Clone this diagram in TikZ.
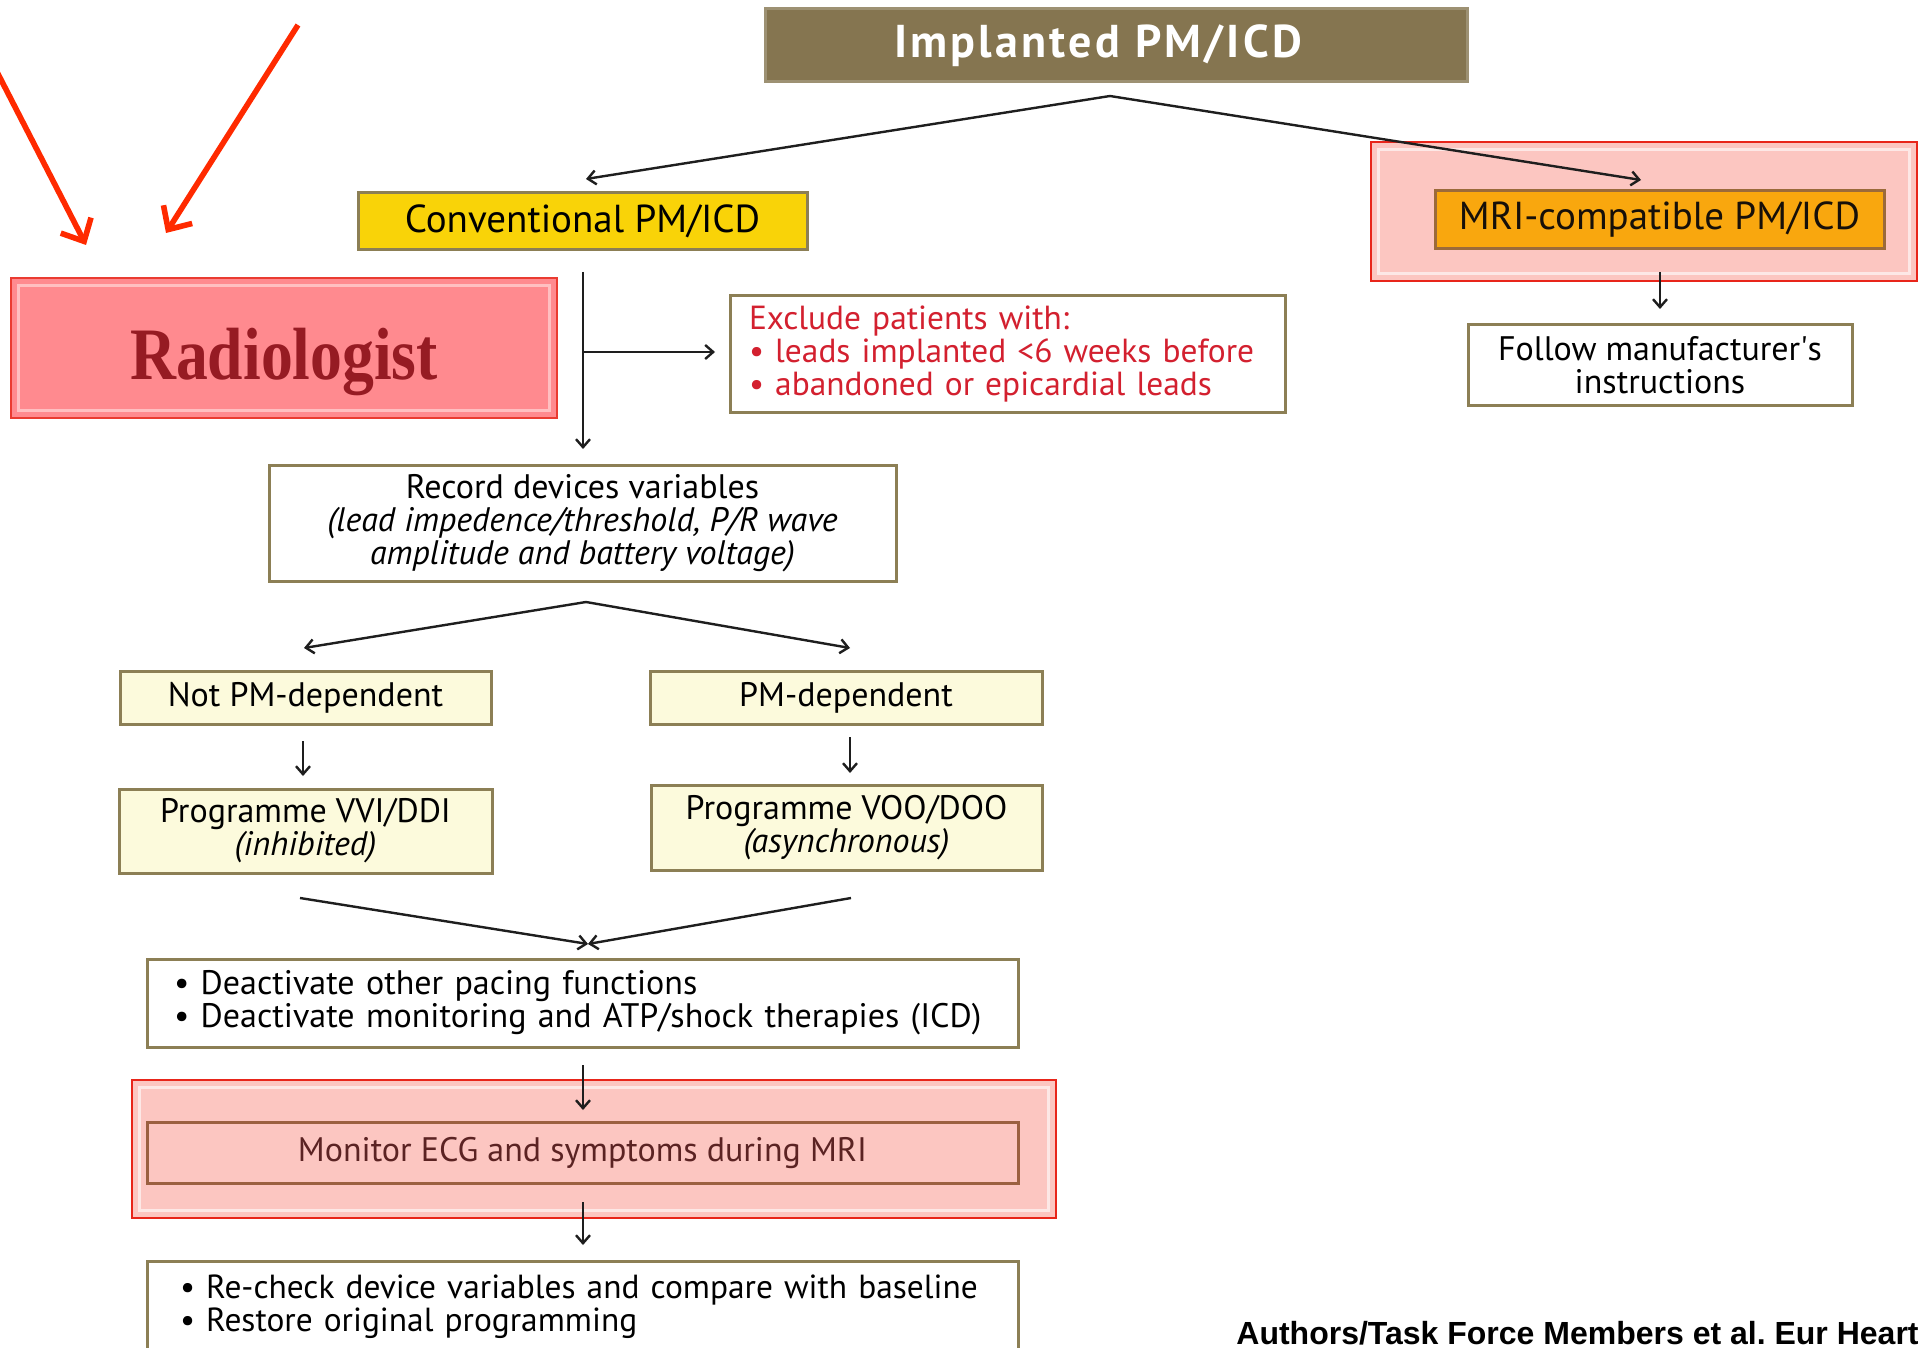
\documentclass[tikz,border=0pt]{standalone}
\usepackage{fontspec}
\setmainfont{PT Sans}
\newfontfamily\citefont{Liberation Sans}
\newfontfamily\radfont{Liberation Serif}
\newfontfamily\implfont[LetterSpace=7]{PT Sans}
\usepackage{xcolor}
\usepackage{tikz}
\usetikzlibrary{arrows.meta,positioning,calc}
\definecolor{implbrown}{HTML}{857550}
\definecolor{boxline}{HTML}{8C7F55}
\definecolor{convyellow}{HTML}{F9D308}
\definecolor{mriorange}{HTML}{F9A70E}
\definecolor{mriline}{HTML}{9B6A3A}
\definecolor{hlpink}{HTML}{FCC6C1}
\definecolor{hlred}{HTML}{E8251A}
\definecolor{radpink}{HTML}{FF8A8F}
\definecolor{radtext}{HTML}{961B23}
\definecolor{cream}{HTML}{FCFADC}
\definecolor{exred}{HTML}{D3202F}
\definecolor{montext}{HTML}{5B2323}
\definecolor{monline}{HTML}{9B6040}
\definecolor{linkgray}{HTML}{1E1E1E}
\definecolor{arrowred}{HTML}{FF2A00}
\newcommand{\pxu}{0.5pt}

\begin{document}
\begin{tikzpicture}[x=0.5pt, y=-0.5pt, >={Straight Barb[length=4pt,width=7pt]},
  font=\fontsize{17}{16.5}\selectfont,
  box/.style={draw=boxline, line width=1.5pt, fill=white, inner sep=0pt, align=center},
  creambox/.style={box, fill=cream},
  hlbox/.style={draw=hlred, line width=1.2pt, fill=hlpink, inner sep=0pt},
  link/.style={draw=linkgray, line width=1.2pt},
  redarrow/.style={draw=arrowred, line width=2.8pt, -{Straight Barb[length=9pt,width=17pt]}}]
  \clip (0,0) rectangle (1923,1348);
  \fill[white] (0,0) rectangle (1923,1348);
  % box helper: [style]{name}{x1}{y1}{x2}{y2}{text}
  \newcommand{\flowbox}[7][box]{%
    \node[#1, minimum width={(#5-#3)*\pxu}, minimum height={(#6-#4)*\pxu}]
      (#2) at ({(#3+#5)/2},{(#4+#6)/2}) {#7};}
  % top level
  \flowbox[box, fill=implbrown, draw=implbrown!80!white]{impl}{765}{9}{1467}{82}{}
  \node[text=white, font=\implfont\fontsize{23}{24}\selectfont\bfseries, xshift=-9pt] (impltxt) at (impl.center) {Implanted PM/ICD};
  \flowbox[box, fill=convyellow, font=\fontsize{19.5}{20}\selectfont]{conv}{358}{193}{807}{250}{Conventional PM/ICD}
  % MRI-compatible branch
  \flowbox[hlbox]{mrihl}{1371}{142}{1917}{281}{}
  \draw[white, opacity=.6, line width=1.5pt] ($(mrihl.north west)+(9,9)$) rectangle ($(mrihl.south east)+(-9,-9)$);
  \flowbox[box, fill=mriorange, draw=mriline, text=black!85!mriline, font=\fontsize{19.5}{20}\selectfont]{mri}{1435}{191}{1884}{249}{MRI-compatible PM/ICD}
  \flowbox{follow}{1468}{325}{1852}{405}{Follow manufacturer\textquotesingle s\\instructions}
  % radiologist
  \flowbox[hlbox, draw=hlred!90!white, fill=radpink, line width=1.4pt]{radio}{11}{278}{557}{418}{}
  \draw[radpink!55!white, line width=1.5pt] ($(radio.north west)+(9,9)$) rectangle ($(radio.south east)+(-9,-9)$);
  \node[text=radtext, font=\radfont\bfseries\fontsize{37}{40}\selectfont, xscale=.86, yshift=-7pt] (radtxt) at (radio.center) {Radiologist};
  % conventional branch
  \flowbox[box, align=left, text width={(555-38)*\pxu}, text=exred, font=\fontsize{16.7}{16.5}\selectfont]{excl}{730}{296}{1285}{412}{Exclude patients with:\\\textbullet{} leads implanted <6 weeks before\\\textbullet{} abandoned or epicardial leads}
  \flowbox{rec}{269}{465}{896}{581}{Record devices variables\\\textit{(lead impedence/threshold, P/R wave}\\\textit{amplitude and battery voltage)}}
  \flowbox[creambox]{notpm}{120}{671}{491}{724}{Not PM-dependent}
  \flowbox[creambox]{pmdep}{650}{671}{1042}{724}{PM-dependent}
  \flowbox[creambox]{vvi}{119}{789}{492}{873}{Programme VVI/DDI\\\textit{(inhibited)}}
  \flowbox[creambox]{voo}{651}{785}{1042}{870}{Programme VOO/DOO\\\textit{(asynchronous)}}
  \flowbox[box, align=left, text width={(871-54)*\pxu}]{deact}{147}{959}{1018}{1047}{\textbullet{} Deactivate other pacing functions\\\textbullet{} Deactivate monitoring and ATP/shock therapies (ICD)}
  \flowbox[hlbox]{monhl}{132}{1080}{1056}{1218}{}
  \draw[white, opacity=.6, line width=1.5pt] ($(monhl.north west)+(9,9)$) rectangle ($(monhl.south east)+(-9,-9)$);
  \flowbox[box, fill=hlpink, draw=monline, text=montext]{mon}{147}{1122}{1018}{1183}{Monitor ECG and symptoms during MRI}
  \flowbox[box, align=left, text width={(871-66)*\pxu}, font=\fontsize{16.7}{16.5}\selectfont]{recheck}{147}{1261}{1018}{1352}{\textbullet{} Re-check device variables and compare with baseline\\\textbullet{} Restore original programming}
  % connector ends
  \coordinate (impl-fork) at (1110,96);
  \coordinate (conv-in) at (586,179);
  \coordinate (mri-in) at (1641,180);
  \coordinate (mri-out) at (1660,272);
  \coordinate (follow-in) at (1660,309);
  \coordinate (conv-out) at (583,272);
  \coordinate (rec-in) at (583,449);
  \coordinate (excl-fork) at (583,352);
  \coordinate (excl-in) at (715,352);
  \coordinate (rec-fork) at (586,602);
  \coordinate (notpm-in) at (304,648);
  \coordinate (pmdep-in) at (850,648);
  \coordinate (notpm-out) at (303,741);
  \coordinate (vvi-in) at (303,776);
  \coordinate (pmdep-out) at (850,737);
  \coordinate (voo-in) at (850,773);
  \coordinate (vvi-out) at (300,898);
  \coordinate (voo-out) at (851,898);
  \coordinate (deact-in) at (588,944);
  \coordinate (deact-out) at (583,1065);
  \coordinate (mon-in) at (583,1110);
  \coordinate (mon-out) at (583,1202);
  \coordinate (recheck-in) at (583,1245);
  % connectors
  \draw[link, ->] (impl-fork) -- (conv-in);
  \draw[link, ->] (impl-fork) -- (mri-in);
  \draw[link, ->] (mri-out) -- (follow-in);
  \draw[link, ->] (conv-out) -- (rec-in);
  \draw[link, ->] (excl-fork) -- (excl-in);
  \draw[link, ->] (rec-fork) -- (notpm-in);
  \draw[link, ->] (rec-fork) -- (pmdep-in);
  \draw[link, ->] (notpm-out) -- (vvi-in);
  \draw[link, ->] (pmdep-out) -- (voo-in);
  \draw[link, ->] (vvi-out) -- (deact-in);
  \draw[link, ->] (voo-out) -- (deact-in);
  \draw[link, ->] (deact-out) -- (mon-in);
  \draw[link, ->] (mon-out) -- (recheck-in);
  % red pointers
  \coordinate (ra1s) at (-4,70);
  \coordinate (ra1e) at (86,245);
  \coordinate (ra2s) at (298,25);
  \coordinate (ra2e) at (166,233);
  \draw[redarrow] (ra1s) -- (ra1e);
  \draw[redarrow] (ra2s) -- (ra2e);
  % citation
  \node[anchor=base west, inner sep=0pt, font=\citefont\bfseries\fontsize{16}{16}\selectfont] (cite) at (1236,1344) {Authors/Task Force Members et al.\ Eur Heart};
\end{tikzpicture}
\end{document}
